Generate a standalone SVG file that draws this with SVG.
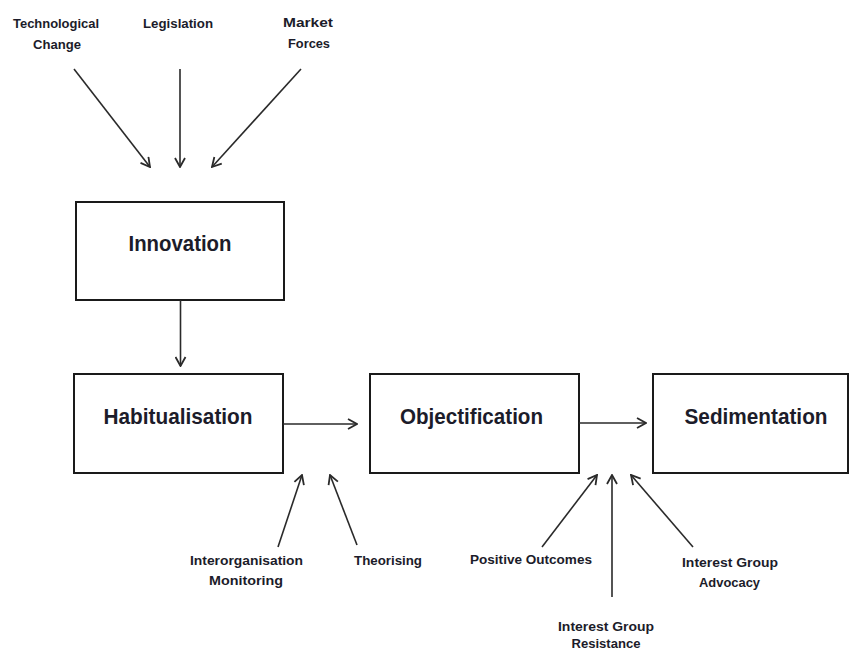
<svg xmlns="http://www.w3.org/2000/svg" width="850" height="653" viewBox="0 0 850 653">
<style>
.box{fill:#fff;stroke:#1a1a1a;stroke-width:2}
.big{font-family:"Liberation Sans",Arial,sans-serif;font-weight:bold;font-size:22px;fill:#1c1c2a;text-anchor:middle}
.sm{font-family:"Liberation Sans",Arial,sans-serif;font-weight:bold;font-size:12px;fill:#1c1c2a;text-anchor:middle}
.c{stroke:#2a2a2a;stroke-width:1.6;fill:none;marker-end:url(#ah)}
</style>
<defs>
<marker id="ah" viewBox="0 0 12 12" refX="11" refY="6" markerWidth="12" markerHeight="12" markerUnits="userSpaceOnUse" orient="auto">
<path d="M2,1 L11,6 L2,11" fill="none" stroke="#2a2a2a" stroke-width="1.8"/>
</marker>
</defs>
<rect width="850" height="653" fill="#fff"/>
<g id="technological-change"><text class="sm" x="56" y="28" textLength="86" lengthAdjust="spacingAndGlyphs">Technological</text><text class="sm" x="57" y="49" textLength="48" lengthAdjust="spacingAndGlyphs">Change</text></g>
<g id="legislation"><text class="sm" x="178" y="28" textLength="70" lengthAdjust="spacingAndGlyphs">Legislation</text></g>
<g id="market-forces"><text class="sm" x="308" y="27" textLength="50" lengthAdjust="spacingAndGlyphs">Market</text><text class="sm" x="309" y="48" textLength="42" lengthAdjust="spacingAndGlyphs">Forces</text></g>
<g id="innovation"><rect class="box" x="76" y="202" width="208" height="98"/><text class="big" x="180" y="251" textLength="103" lengthAdjust="spacingAndGlyphs">Innovation</text></g>
<g id="habitualisation"><rect class="box" x="74" y="374" width="209" height="99"/><text class="big" x="178" y="424" textLength="149" lengthAdjust="spacingAndGlyphs">Habitualisation</text></g>
<g id="objectification"><rect class="box" x="370" y="374" width="209" height="99"/><text class="big" x="471.5" y="424" textLength="143" lengthAdjust="spacingAndGlyphs">Objectification</text></g>
<g id="sedimentation"><rect class="box" x="653" y="374" width="195" height="99"/><text class="big" x="756" y="424" textLength="143" lengthAdjust="spacingAndGlyphs">Sedimentation</text></g>
<g id="interorganisation-monitoring"><text class="sm" x="246.5" y="565" textLength="113" lengthAdjust="spacingAndGlyphs">Interorganisation</text><text class="sm" x="246" y="585" textLength="74" lengthAdjust="spacingAndGlyphs">Monitoring</text></g>
<g id="theorising"><text class="sm" x="388" y="565" textLength="68" lengthAdjust="spacingAndGlyphs">Theorising</text></g>
<g id="positive-outcomes"><text class="sm" x="531" y="564" textLength="122" lengthAdjust="spacingAndGlyphs">Positive Outcomes</text></g>
<g id="interest-group-advocacy"><text class="sm" x="730" y="567" textLength="96" lengthAdjust="spacingAndGlyphs">Interest Group</text><text class="sm" x="729.5" y="587" textLength="61" lengthAdjust="spacingAndGlyphs">Advocacy</text></g>
<g id="interest-group-resistance"><text class="sm" x="606" y="631" textLength="96" lengthAdjust="spacingAndGlyphs">Interest Group</text><text class="sm" x="606" y="648" textLength="69" lengthAdjust="spacingAndGlyphs">Resistance</text></g>
<g id="connectors">
<line class="c" x1="74" y1="69" x2="150" y2="167"/>
<line class="c" x1="180" y1="69" x2="180" y2="167"/>
<line class="c" x1="301" y1="69" x2="212" y2="167"/>
<line class="c" x1="180.5" y1="300" x2="180.5" y2="366"/>
<line class="c" x1="283" y1="424" x2="357" y2="424"/>
<line class="c" x1="579" y1="423" x2="646" y2="423"/>
<line class="c" x1="278" y1="547" x2="302" y2="475"/>
<line class="c" x1="357" y1="545" x2="330" y2="475"/>
<line class="c" x1="542" y1="547" x2="597" y2="475"/>
<line class="c" x1="612" y1="597" x2="612" y2="475"/>
<line class="c" x1="693" y1="547" x2="631" y2="475"/>
</g>
</svg>
